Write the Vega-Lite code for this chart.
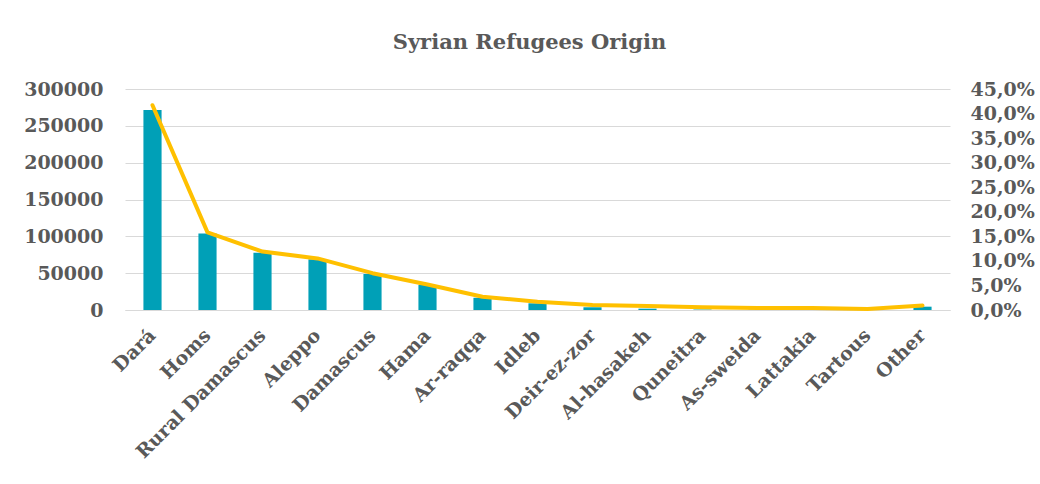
{
  "$schema": "https://vega.github.io/schema/vega-lite/v6.json",
  "width": 825,
  "height": 221,
  "autosize": {"type": "none"},
  "padding": {"left": 125, "top": 89, "right": 90, "bottom": 174},
  "background": "white",
  "title": {
    "text": "Syrian Refugees Origin",
    "font": "DejaVu Serif",
    "fontSize": 21,
    "fontWeight": "bold",
    "color": "#595959",
    "anchor": "middle",
    "offset": 27,
    "dx": -8
  },
  "config": {
    "locale": {
      "number": {"decimal": ",", "thousands": ".", "grouping": [3], "currency": ["", " €"]}
    },
    "view": {"stroke": null},
    "axis": {
      "labelFont": "DejaVu Serif",
      "labelFontWeight": "bold",
      "labelColor": "#595959",
      "labelFontSize": 19,
      "ticks": false,
      "title": null,
      "gridColor": "#d9d9d9",
      "domainColor": "#d9d9d9"
    }
  },
  "data": {
    "values": [
      {"region": "Dará", "refugees": 271500, "share": 0.417},
      {"region": "Homs", "refugees": 104000, "share": 0.158},
      {"region": "Rural Damascus", "refugees": 77800, "share": 0.119},
      {"region": "Aleppo", "refugees": 68800, "share": 0.105},
      {"region": "Damascus", "refugees": 48900, "share": 0.075},
      {"region": "Hama", "refugees": 33900, "share": 0.052},
      {"region": "Ar-raqqa", "refugees": 16600, "share": 0.027},
      {"region": "Idleb", "refugees": 9100, "share": 0.017},
      {"region": "Deir-ez-zor", "refugees": 3700, "share": 0.01},
      {"region": "Al-hasakeh", "refugees": 1800, "share": 0.008},
      {"region": "Quneitra", "refugees": 600, "share": 0.0055},
      {"region": "As-sweida", "refugees": 400, "share": 0.004},
      {"region": "Lattakia", "refugees": 300, "share": 0.004},
      {"region": "Tartous", "refugees": 200, "share": 0.002},
      {"region": "Other", "refugees": 4500, "share": 0.009}
    ]
  },
  "encoding": {
    "x": {
      "field": "region",
      "type": "nominal",
      "sort": null,
      "scale": {"paddingInner": 0.67, "paddingOuter": 0.335},
      "axis": {
        "labelAngle": -45,
        "labelAlign": "right",
        "labelBaseline": "middle",
        "labelPadding": 22,
        "labelFontSize": 19,
        "domain": true,
        "grid": false
      }
    }
  },
  "layer": [
    {
      "mark": {"type": "bar", "color": "#00A0B7"},
      "encoding": {
        "y": {
          "field": "refugees",
          "type": "quantitative",
          "scale": {"domain": [0, 300000]},
          "axis": {
            "values": [0, 50000, 100000, 150000, 200000, 250000, 300000],
            "format": "d",
            "domain": false,
            "grid": true,
            "labelPadding": 22
          }
        }
      }
    },
    {
      "mark": {"type": "line", "color": "#FFC000", "strokeWidth": 4, "strokeJoin": "round", "strokeCap": "round"},
      "encoding": {
        "y": {
          "field": "share",
          "type": "quantitative",
          "scale": {"domain": [0, 0.45]},
          "axis": {
            "orient": "right",
            "values": [0, 0.05, 0.1, 0.15, 0.2, 0.25, 0.3, 0.35, 0.4, 0.45],
            "format": ".1%",
            "domain": false,
            "grid": false,
            "labelPadding": 20
          }
        }
      }
    }
  ],
  "resolve": {"scale": {"y": "independent"}, "axis": {"y": "independent"}}
}
